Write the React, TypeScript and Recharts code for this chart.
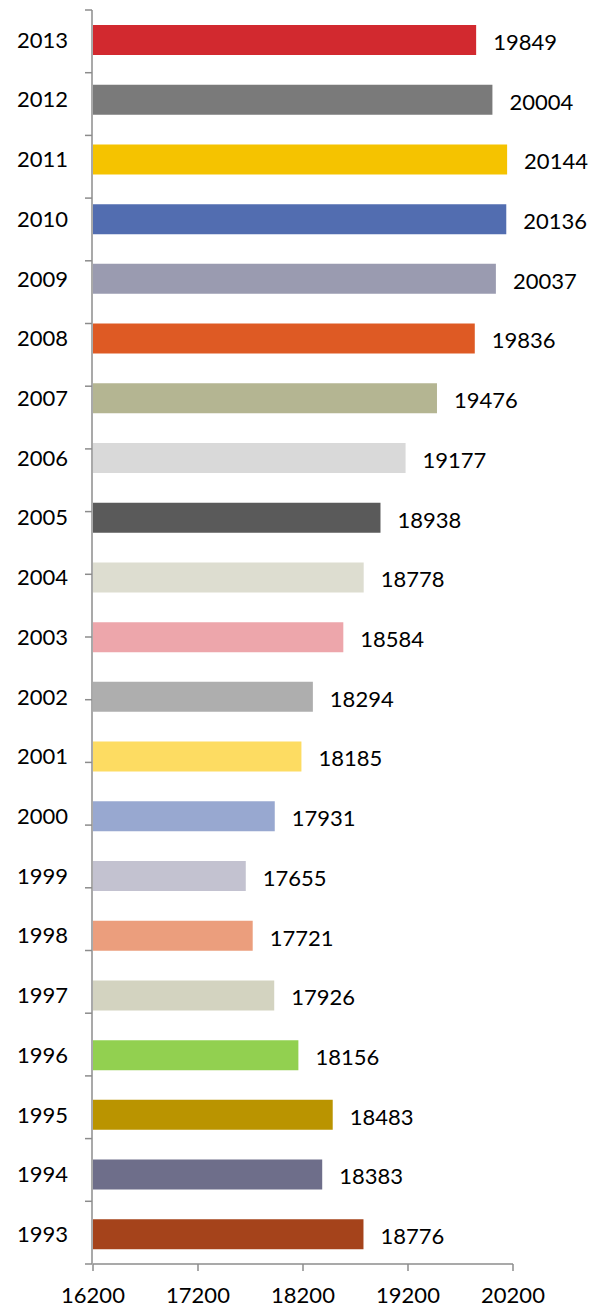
import { BarChart, Bar, XAxis, YAxis, Cell, LabelList } from 'recharts';

const years = [
  '2013', '2012', '2011', '2010', '2009', '2008', '2007', '2006', '2005', '2004', '2003',
  '2002', '2001', '2000', '1999', '1998', '1997', '1996', '1995', '1994', '1993',
];

const values = [
  19849, 20004, 20144, 20136, 20037, 19836, 19476, 19177, 18938, 18778, 18584,
  18294, 18185, 17931, 17655, 17721, 17926, 18156, 18483, 18383, 18776,
];

const barColors = [
  '#d2292f', '#7a7a7a', '#f5c300', '#526db0', '#9a9bb0', '#de5a24', '#b4b592', '#d9d9d9',
  '#5a5a5a', '#ddddd0', '#eda6ab', '#aeaeae', '#fddc62', '#98a8d0', '#c3c2d0', '#eb9e7d',
  '#d3d3c0', '#92d050', '#ba9400', '#6e6e8a', '#a5431b',
];

const xTicks = [16200, 17200, 18200, 19200, 20200];

// category boundaries for the tick marks on the vertical axis
const rowEdges = [0, 1, 2, 3, 4, 5, 6, 7, 8, 9, 10, 11, 12, 13, 14, 15, 16, 17, 18, 19, 20, 21];

const data = years.map((year, i) => ({ year, value: values[i] }));

const axisColor = '#8c8c8c';
const font = 'Lato, "Noto Sans", sans-serif';

export default function App() {
  return (
    <div style={{ position: 'absolute', left: 0, top: 0, width: 603, height: 1308, background: '#fff' }}>
      <BarChart
        width={603}
        height={1308}
        data={data}
        layout="vertical"
        margin={{ top: 10, right: 90, bottom: 14, left: 91 }}
        style={{ fontFamily: font }}
      >
        <XAxis
          type="number"
          domain={[16200, 20200]}
          ticks={xTicks}
          height={30}
          stroke={axisColor}
          strokeWidth={1.5}
          tickSize={7}
          tickMargin={16}
          tick={{ fill: '#000', fontSize: 22, fontFamily: font }}
        />
        <YAxis
          yAxisId="edges"
          type="number"
          domain={[0, 21]}
          ticks={rowEdges}
          interval={0}
          allowDataOverflow
          width={1}
          stroke={axisColor}
          strokeWidth={1.5}
          tickSize={7}
          tickLine={{ stroke: axisColor, strokeWidth: 1.5 }}
          tickFormatter={() => ''}
        />
        <YAxis
          yAxisId="cat"
          type="category"
          dataKey="year"
          width={1}
          axisLine={false}
          tickLine={false}
          tickSize={0}
          tickMargin={25}
          interval={0}
          tick={{ fill: '#000', fontSize: 22, fontFamily: font }}
        />
        <Bar yAxisId="cat" dataKey="value" barSize={30} isAnimationActive={false}>
          {data.map((d, i) => (
            <Cell key={d.year} fill={barColors[i]} />
          ))}
          <LabelList
            dataKey="value"
            position="right"
            offset={17}
            fill="#000"
            fontSize={22}
            fontFamily={font}
            dy={2}
          />
        </Bar>
      </BarChart>
    </div>
  );
}
